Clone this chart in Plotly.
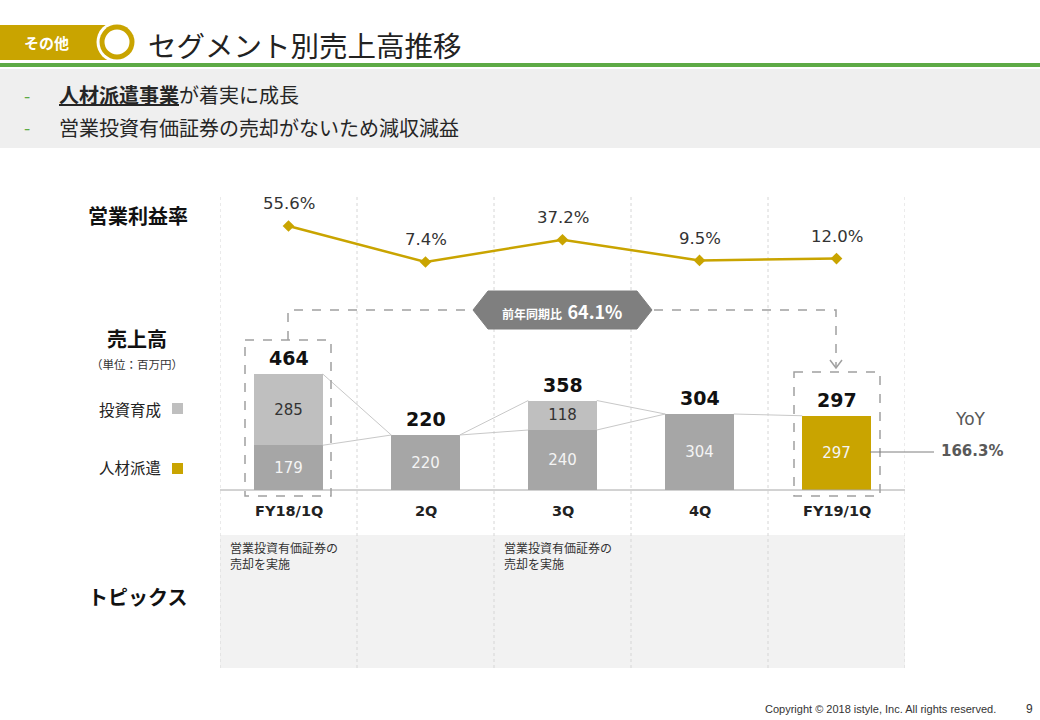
import plotly.graph_objects as go

W, H = 1040, 720

# ---------------- data ----------------
categories = ["FY18/1Q", "2Q", "3Q", "4Q", "FY19/1Q"]
jinzai = [179, 220, 240, 304, 297]      # 人材派遣
toushi = [285, 0, 118, 0, 0]            # 投資育成
totals = [464, 220, 358, 304, 297]
margin_pct = [55.6, 7.4, 37.2, 9.5, 12.0]
topics = ["営業投資有価証券の<br>売却を実施", "", "営業投資有価証券の<br>売却を実施", "", ""]
yoy_prev = "64.1%"
yoy_jinzai = "166.3%"

JP = "Noto Sans CJK JP"
NUM = "DejaVu Sans"
GOLD = "#C9A400"
GRAY_D = "#A6A6A6"
GRAY_L = "#BFBFBF"
GREEN = "#5DAA45"


def px(x):
    return x / W


def py(y):
    return 1 - y / H


fig = go.Figure()

bar_colors = [GRAY_D] * (len(categories) - 1) + [GOLD]
fig.add_trace(go.Bar(
    x=list(range(len(categories))), y=jinzai, width=0.5,
    marker=dict(color=bar_colors, line=dict(width=0)),
    text=[str(v) for v in jinzai], textposition="inside", insidetextanchor="middle",
    textfont=dict(family=NUM, size=15, color="#F4F4F4"), hoverinfo="skip",
    constraintext="none", yaxis="y"))
fig.add_trace(go.Bar(
    x=list(range(len(categories))), y=toushi, width=0.5,
    marker=dict(color=GRAY_L, line=dict(width=0)),
    text=[str(v) if v else "" for v in toushi], textposition="inside", insidetextanchor="middle",
    textfont=dict(family=NUM, size=15, color="#333333"), hoverinfo="skip",
    constraintext="none", yaxis="y"))

# connector lines between bars (from data)
cx, cy = [], []
for i in range(len(categories) - 1):
    cx += [i + 0.25, i + 0.75, None]
    cy += [totals[i], totals[i + 1], None]
    if toushi[i] > 0:
        cx += [i + 0.25, i + 0.75, None]
        cy += [jinzai[i], totals[i + 1], None]
    if toushi[i + 1] > 0:
        cx += [i + 0.25, i + 0.75, None]
        cy += [totals[i], jinzai[i + 1], None]
fig.add_trace(go.Scatter(x=cx, y=cy, mode="lines", line=dict(color="#C8C8C8", width=1),
                         hoverinfo="skip", yaxis="y"))

# operating margin line
fig.add_trace(go.Scatter(
    x=list(range(len(categories))), y=margin_pct, mode="lines+markers",
    line=dict(color=GOLD, width=2.5),
    marker=dict(symbol="diamond", size=9, color=GOLD),
    hoverinfo="skip", yaxis="y2"))

annotations = []
for i, v in enumerate(margin_pct):
    annotations.append(dict(x=i, y=v, xref="x", yref="y2", yshift=22, text=f"{v:.1f}%",
                            showarrow=False, font=dict(family=NUM, size=16.5, color="#333333")))
for i, v in enumerate(totals):
    annotations.append(dict(x=i, y=v, xref="x", yref="y", yshift=16, text=f"<b>{v}</b>",
                            showarrow=False, font=dict(family=NUM, size=19, color="#111111")))
for i, c in enumerate(categories):
    annotations.append(dict(x=i, y=py(521), xref="x", yref="paper", text=f"<b>{c}</b>",
                            showarrow=False, font=dict(family=NUM, size=14.5, color="#222222")))
for i, t in enumerate(topics):
    if t:
        annotations.append(dict(x=i - 0.44, y=py(537), xref="x", yref="paper", text=t,
                                xanchor="left", yanchor="top", align="left", showarrow=False,
                                font=dict(family=JP, size=12, color="#333333")))


def txt(x, y, text, size, color="#333333", family=JP, xanchor="center", yanchor="middle"):
    annotations.append(dict(x=px(x), y=py(y), xref="paper", yref="paper", text=text,
                            xanchor=xanchor, yanchor=yanchor, showarrow=False,
                            font=dict(family=family, size=size, color=color)))


# header texts
txt(46, 42, "<b>その他</b>", 15, "#FFFFFF")
txt(146, 44, "セグメント別売上高推移", 28.5, "#222222", xanchor="left")
txt(27, 95, "-", 18, GREEN)
txt(27, 127, "-", 18, GREEN)
txt(57, 95, "<b><u>人材派遣事業</u></b>が着実に成長", 20, "#262626", xanchor="left")
txt(57, 127, "営業投資有価証券の売却がないため減収減益", 20, "#262626", xanchor="left")

# left labels
txt(138, 215, "<b>営業利益率</b>", 20, "#111111")
txt(137, 338, "<b>売上高</b>", 20, "#111111")
txt(137, 364, "（単位：百万円）", 11.5, "#333333")
txt(163, 409, "投資育成", 15.5, "#222222", xanchor="right")
txt(163, 467, "人材派遣", 15.5, "#222222", xanchor="right")
txt(137, 596, "<b>トピックス</b>", 20, "#111111")

# badge & YoY
txt(562, 311, "<b>前年同期比</b>  <b><span style='font-size:18px'>" + yoy_prev + "</span></b>", 12, "#FFFFFF")
txt(970, 419, "YoY", 17, "#595959", family=NUM)
txt(972, 451, "<b>" + yoy_jinzai + "</b>", 15, "#595959", family=NUM)

# footer
txt(998, 709, "Copyright © 2018 istyle, Inc. All rights reserved.", 11, "#333333",
    family="Liberation Sans", xanchor="right")
txt(1029, 709, "9", 12, "#333333", family="Liberation Sans")

shapes = []


def rect(x0, y0, x1, y1, color, layer="below"):
    shapes.append(dict(type="rect", xref="paper", yref="paper", x0=px(x0), x1=px(x1),
                       y0=py(y1), y1=py(y0), fillcolor=color, line=dict(width=0), layer=layer))


def circle(cx_, cy_, r, color):
    shapes.append(dict(type="circle", xref="paper", yref="paper", x0=px(cx_ - r), x1=px(cx_ + r),
                       y0=py(cy_ + r), y1=py(cy_ - r), fillcolor=color, line=dict(width=0),
                       layer="above"))


def path(points, close=False, fill=None, color="#A0A0A0", dash="dash", width=1.5):
    d = "M " + " L ".join(f"{px(x)},{py(y)}" for x, y in points)
    if close:
        d += " Z"
    s = dict(type="path", xref="paper", yref="paper", path=d,
             line=dict(color=color, width=width, dash=dash), layer="above")
    if fill:
        s["fillcolor"] = fill
    shapes.append(s)


# header graphics
rect(0, 25, 112, 60, GOLD)
circle(117, 42, 20.5, "#FFFFFF")
circle(117, 42, 17.5, GOLD)
circle(117, 42, 12.5, "#FFFFFF")
rect(0, 63, 1040, 67, GREEN)
rect(0, 69, 1040, 148, "#EFEFEF")

# topics background
shapes.append(dict(type="rect", xref="x", yref="paper", x0=-0.5, x1=4.5, y0=py(668), y1=py(535),
                   fillcolor="#F2F2F2", line=dict(width=0), layer="below"))
# column separators
for k in range(len(categories) + 1):
    shapes.append(dict(type="line", xref="x", yref="paper", x0=k - 0.5, x1=k - 0.5,
                       y0=py(668), y1=py(195), line=dict(color="#D6D6D6", width=1, dash="dot"),
                       layer="below"))
# baseline
shapes.append(dict(type="line", xref="x", yref="y", x0=-0.5, x1=4.5, y0=0, y1=0,
                   line=dict(color="#A6A6A6", width=1), layer="above"))

# legend squares
rect(172, 403, 183, 414, GRAY_L, "above")
rect(172, 463, 183, 474, GOLD, "above")

# dashed boxes
path([(245, 340), (331, 340), (331, 496), (245, 496)], close=True)
path([(794, 372), (880, 372), (880, 496), (794, 496)], close=True)
# dashed connector + arrow
path([(288, 340), (288, 310), (836, 310), (836, 368)])
path([(830, 360), (836, 368), (842, 360)], dash="solid", width=1.5)
# badge hexagon
path([(473, 310), (488, 291), (637, 291), (652, 310), (637, 329), (488, 329)], close=True,
     fill="#7F7F7F", color="#7F7F7F", dash="solid", width=1)
# YoY connector
path([(870, 452), (934, 452)], dash="solid", color="#7F7F7F", width=1)

fig.update_layout(
    width=W, height=H, autosize=False,
    margin=dict(l=0, r=0, t=0, b=0),
    paper_bgcolor="#FFFFFF", plot_bgcolor="rgba(0,0,0,0)",
    barmode="stack", showlegend=False,
    xaxis=dict(domain=[px(220), px(905)], range=[-0.5, 4.5], visible=False, fixedrange=True),
    yaxis=dict(domain=[0, 1], range=[-920, 1960], visible=False, fixedrange=True),
    yaxis2=dict(domain=[0, 1], range=[-605.7, 358.1], overlaying="y", visible=False, fixedrange=True),
    uniformtext=dict(mode="show", minsize=6),
    annotations=annotations, shapes=shapes,
)

fig.write_html("out.html", config={"displayModeBar": False},
               post_script="document.body.style.margin='0';document.body.style.overflow='hidden';")
